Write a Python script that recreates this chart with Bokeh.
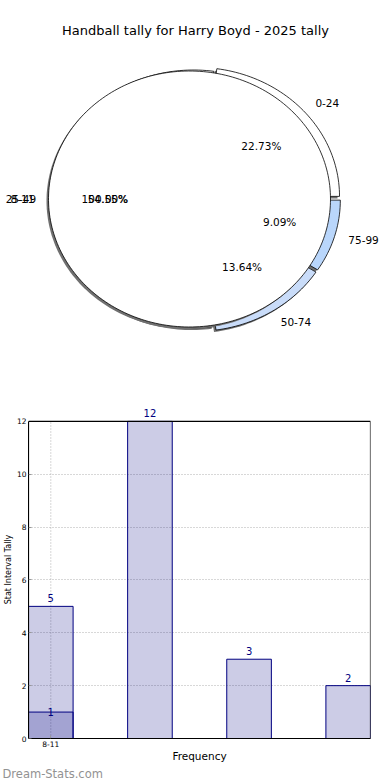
import numpy as np
from bokeh.plotting import figure
from bokeh.models import Range1d, Label, FixedTicker, Title, BoxAnnotation
from bokeh.embed import file_html
from bokeh.resources import INLINE
from bokeh.core.properties import value

# ---------------- data ----------------
chart_title = "Handball tally for Harry Boyd - 2025 tally"
pie_labels = ["0-24", "25-49", "50-74", "75-99"]
pie_values = [5, 12, 3, 2]
disc_labels = ["8-11"]
disc_values = [1]

bar_values = [5, 12, 3, 2]
bar_values_2 = [1]
x_tick_labels = ["8-11"]
y_ticks = [0, 2, 4, 6, 8, 10, 12]
x_axis_title = "Frequency"
y_axis_title = "Stat Interval Tally"
watermark = "Dream-Stats.com"

# ---------------- styles ----------------
FONT = "DejaVu Sans"
pie_colors = ["#ffffff", "#ffffff", "#c9dcf9", "#b9d6fb"]
pie_explode_px = [4, 0, 4, 4]
SHADOW = "#707070"

# pie geometry (pixels -> data)
SX, SY = 141.0, 128.0             # px per data unit
W1, H1 = 390, 400
cx_px, cy_px = 189.0, 198.5       # disc centre inside the canvas
ocx, ocy = 4.0 / SX, 0.0          # outer pie centre offset
orx, ory = 143.0 / SX, 129.0 / SY # outer pie radii

p1 = figure(width=W1, height=H1, output_backend="svg", toolbar_location=None,
            x_range=Range1d(-cx_px / SX, (W1 - cx_px) / SX),
            y_range=Range1d(-(H1 - cy_px) / SY, cy_px / SY),
            x_axis_location=None, y_axis_location=None, min_border=0)
p1.grid.visible = False
p1.outline_line_color = None
p1.background_fill_color = "white"


def sector(cx, cy, rx, ry, a0, a1):
    n = max(int(abs(a1 - a0) / (2 * np.pi) * 240), 8)
    t = np.linspace(a0, a1, n)
    xs = list(cx + rx * np.cos(t))
    ys = list(cy + ry * np.sin(t))
    if abs(a1 - a0) < 2 * np.pi - 1e-9:
        xs = [cx] + xs
        ys = [cy] + ys
    return xs, ys


def pie_geom(values, cx, cy, explode):
    vals = np.array(values, dtype=float)
    frac = vals / vals.sum()
    edges = np.concatenate([[0], np.cumsum(frac)]) * 2 * np.pi
    out = []
    for i in range(len(vals)):
        a0, a1 = edges[i], edges[i + 1]
        b = (a0 + a1) / 2
        e = explode[i]
        out.append((a0, a1, b, cx + e * np.cos(b) / SX, cy + e * np.sin(b) / SY, frac[i]))
    return out


sdx, sdy = -2.0 / SX, -2.0 / SY

outer = pie_geom(pie_values, ocx, ocy, pie_explode_px)
sh_x, sh_y, sl_x, sl_y = [], [], [], []
for (a0, a1, b, ccx, ccy, f) in outer:
    xs, ys = sector(ccx, ccy, orx, ory, a0, a1)
    sh_x.append([v + sdx for v in xs]); sh_y.append([v + sdy for v in ys])
    sl_x.append(xs); sl_y.append(ys)
p1.patches(sh_x, sh_y, fill_color=SHADOW, line_color=None)
p1.patches(sl_x, sl_y, fill_color=pie_colors, line_color="black", line_width=0.8)

disc = pie_geom(disc_values, 0.0, 0.0, [0] * len(disc_values))
dx_l, dy_l, ds_x, ds_y = [], [], [], []
for (a0, a1, b, ccx, ccy, f) in disc:
    xs, ys = sector(ccx, ccy, 1.0, 1.0, a0, a1)
    ds_x.append([v + sdx for v in xs]); ds_y.append([v + sdy for v in ys])
    dx_l.append(xs); dy_l.append(ys)
p1.patches(ds_x, ds_y, fill_color=SHADOW, line_color=None)
p1.patches(dx_l, dy_l, fill_color="white", line_color="black", line_width=0.8)

# labels
lab_left = dict(x=[], y=[], t=[])
lab_right = dict(x=[], y=[], t=[])
pct = dict(x=[], y=[], t=[])
for geom, labels, rx, ry in ((outer, pie_labels, orx, ory), (disc, disc_labels, 1.0, 1.0)):
    for (a0, a1, b, ccx, ccy, f), lab in zip(geom, labels):
        lx = ccx + 1.1 * rx * np.cos(b)
        ly = ccy + 1.1 * ry * np.sin(b)
        d = lab_left if np.cos(b) >= 0 else lab_right
        d["x"].append(lx); d["y"].append(ly); d["t"].append(lab)
        pct["x"].append(ccx + 0.6 * rx * np.cos(b))
        pct["y"].append(ccy + 0.6 * ry * np.sin(b))
        pct["t"].append("%.2f%%" % (f * 100))

common = dict(text_font=value(FONT), text_font_size="10.5px", text_color="black",
              text_baseline="middle")
p1.text(x=lab_left["x"], y=lab_left["y"], text=lab_left["t"], text_align="left", **common)
p1.text(x=lab_right["x"], y=lab_right["y"], text=lab_right["t"], text_align="right", **common)
p1.text(x=pct["x"], y=pct["y"], text=pct["t"], text_align="center", **common)

p1.add_layout(Label(x=6.0 / SX, y=(cy_px - 30.0) / SY, text=chart_title,
                    text_font=FONT, text_font_size="13px", text_align="center",
                    text_baseline="middle", text_color="black"))

# ---------------- bar chart ----------------
BW = 0.45
n = len(bar_values)
y_top = max(y_ticks)
H2, BOTTOM, TOPGAP = 380, 40, 21
FH = H2 - BOTTOM
y_end = y_top * FH / (FH - TOPGAP)   # frame reaches above the box so value labels stay visible
x_start, x_end = -BW / 2, n - 1 + BW / 2

p2 = figure(width=390, height=H2, output_backend="svg", toolbar_location=None,
            x_range=Range1d(x_start, x_end), y_range=Range1d(0, y_end),
            min_border_top=0, min_border_bottom=BOTTOM, min_border_right=20,
            min_border_left=0)
p2.outline_line_color = None
p2.xgrid.visible = False
p2.ygrid.ticker = FixedTicker(ticks=y_ticks[1:-1])
p2.ygrid.grid_line_color = "#b0b0b0"
p2.ygrid.grid_line_dash = "1 2"

xs = list(range(n))
xs2 = list(range(len(bar_values_2)))
tick_pos = list(range(len(x_tick_labels)))
# vertical dotted grid at the labelled tick, within the box
p2.segment(x0=tick_pos, y0=[0] * len(tick_pos), x1=tick_pos, y1=[y_top] * len(tick_pos),
           line_color="#b0b0b0", line_dash="1 2", line_width=1)

p2.vbar(x=xs, top=bar_values, width=BW, fill_color="navy", fill_alpha=0.2,
        line_color="navy", line_width=1)
p2.vbar(x=xs2, top=bar_values_2, width=BW, fill_color="navy", fill_alpha=0.2,
        line_color="navy", line_width=1)
for x, v in zip(xs, bar_values):
    p2.add_layout(Label(x=x, y=v, text=str(v), text_align="center", text_baseline="bottom",
                        y_offset=4, text_color="navy", text_font=FONT, text_font_size="10px"))
for x, v in zip(xs2, bar_values_2):
    p2.add_layout(Label(x=x, y=v, text=str(v), text_align="center", text_baseline="middle",
                        text_color="navy", text_font=FONT, text_font_size="10px"))

# the plot box (0 .. 12)
p2.add_layout(BoxAnnotation(bottom=0, top=y_top, fill_alpha=0, fill_color=None,
                            line_color="black", line_width=1.2, line_alpha=1))

p2.xaxis.ticker = FixedTicker(ticks=tick_pos)
p2.xaxis.major_label_overrides = {i: l for i, l in enumerate(x_tick_labels)}
p2.yaxis.ticker = FixedTicker(ticks=y_ticks)
p2.yaxis.bounds = (0, y_top)
for ax in (p2.xaxis, p2.yaxis):
    ax.major_label_text_font = FONT
    ax.major_label_text_font_size = "7.5px"
    ax.major_label_text_color = "black"
    ax.major_tick_in = 3
    ax.major_tick_out = 0
    ax.major_tick_line_color = "#999999"
    ax.minor_tick_line_color = None
    ax.axis_line_color = "black"
    ax.major_label_standoff = 2
    ax.axis_label_text_font = FONT
    ax.axis_label_text_font_style = "normal"
    ax.axis_label_text_color = "black"
p2.xaxis.major_label_standoff = 2
p2.xaxis.axis_label = x_axis_title
p2.xaxis.axis_label_text_font_size = "10.5px"
p2.xaxis.axis_label_standoff = 0
p2.yaxis.axis_label = y_axis_title
p2.yaxis.axis_label_text_font_size = "8px"
p2.yaxis.axis_label_standoff = 1

p2.add_layout(Title(text=watermark, align="left", text_font=FONT, text_font_size="11.5px",
                    text_font_style="normal", text_color="#929292", offset=-26,
                    standoff=0), "below")

open("out.html", "w").write(file_html([p1, p2], INLINE))
